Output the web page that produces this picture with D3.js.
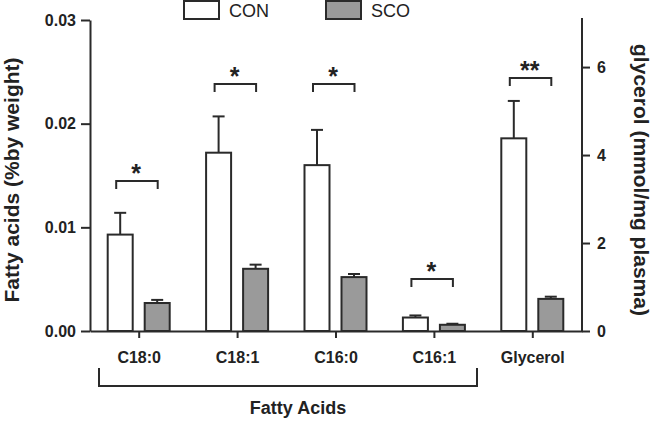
<!DOCTYPE html>
<html>
<head>
<meta charset="utf-8">
<script src="https://cdn.jsdelivr.net/npm/d3@7"></script>
<style>
  body { margin: 0; background: #fff; }
  svg text { font-family: "Liberation Sans", Arial, sans-serif; fill: #222; }
</style>
</head>
<body>
<div id="chart"></div>
<script>
// values
var categories = ['C18:0', 'C18:1', 'C16:0', 'C16:1', 'Glycerol'],
	conValues = [0.0093, 0.0172, 0.0160, 0.0013, 4.38],
	conErrors = [0.0021, 0.0035, 0.0034, 0.0002, 0.85],
	scoValues = [0.0027, 0.0060, 0.0052, 0.0006, 0.73],
	scoErrors = [0.0003, 0.0004, 0.0003, 0.0001, 0.05],
	sigLabels = ['*', '*', '*', '*', '**'],
	sigLevels = [0.0145, 0.0238, 0.0238, 0.0050, 5.75],
	rightAxisCats = ['Glycerol'],
	leftTicks = [0, 0.01, 0.02, 0.03],
	rightTicks = [0, 2, 4, 6],
	seriesNames = ['CON', 'SCO'];

var W = 652, H = 423,
	ink = '#2a2a2a',
	fills = ['#ffffff', '#9a9a9a'],
	x0 = 90, x1 = 582, yBase = 331, yTop = 20;

var svg = d3.select('#chart').append('svg')
	.attr('width', W)
	.attr('height', H);

var x = d3.scaleBand().domain(categories).range([x0, x1]);
var yL = d3.scaleLinear().domain([0, 0.03]).range([yBase, yTop]);
var yR = d3.scaleLinear().domain([0, 7.07]).range([yBase, yTop]);

function yFor(cat) { return rightAxisCats.indexOf(cat) >= 0 ? yR : yL; }

//------------- axes
function styleAxis(g) {
	g.select('.domain').attr('stroke', ink).attr('stroke-width', 2);
	g.selectAll('.tick line').attr('stroke', ink).attr('stroke-width', 2);
	g.selectAll('.tick text')
		.attr('fill', ink)
		.style('font-size', '16px')
		.style('font-weight', 'bold')
		.style('font-family', '"Liberation Sans", Arial, sans-serif');
}

svg.append('g')
	.attr('transform', 'translate(' + x0 + ',0)')
	.call(d3.axisLeft(yL).tickValues(leftTicks).tickFormat(d3.format('.2f'))
		.tickSize(9).tickPadding(5).tickSizeOuter(0))
	.call(styleAxis);

svg.append('g')
	.attr('transform', 'translate(' + x1 + ',0)')
	.call(d3.axisRight(yR).tickValues(rightTicks).tickFormat(d3.format('d'))
		.tickSize(8).tickPadding(7).tickSizeOuter(0))
	.call(styleAxis)
	.select('.domain').attr('d', 'M0,' + (yTop - 2) + 'V' + yBase);

svg.append('g')
	.attr('transform', 'translate(0,' + yBase + ')')
	.call(d3.axisBottom(x).tickSize(7).tickPadding(14).tickSizeOuter(0))
	.call(styleAxis);

//------------- bars
var barW = 25, off = 6;
var groups = svg.selectAll('g.cat')
	.data(categories)
	.enter()
		.append('g')
		.attr('class', 'cat');

function barLeft(cat, s) {
	var c = x(cat) + x.bandwidth() / 2 - 0.5;
	return s === 0 ? c - off - barW : c + off;
}

[ [conValues, conErrors], [scoValues, scoErrors] ].forEach(function (series, s) {
	var vals = series[0], errs = series[1];

	groups.append('line')
		.attr('x1', (d) => barLeft(d, s) + barW / 2)
		.attr('x2', (d) => barLeft(d, s) + barW / 2)
		.attr('y1', (d, i) => yFor(d)(vals[i]))
		.attr('y2', (d, i) => yFor(d)(vals[i] + errs[i]))
		.attr('stroke', ink).attr('stroke-width', 2);

	groups.append('line')
		.attr('x1', (d) => barLeft(d, s) + barW / 2 - 6)
		.attr('x2', (d) => barLeft(d, s) + barW / 2 + 6)
		.attr('y1', (d, i) => yFor(d)(vals[i] + errs[i]))
		.attr('y2', (d, i) => yFor(d)(vals[i] + errs[i]))
		.attr('stroke', ink).attr('stroke-width', 2);

	groups.append('rect')
		.attr('x', (d) => barLeft(d, s))
		.attr('width', barW)
		.attr('y', (d, i) => yFor(d)(vals[i]))
		.attr('height', (d, i) => yBase - yFor(d)(vals[i]))
		.attr('fill', fills[s])
		.attr('stroke', ink).attr('stroke-width', 2);
});

//------------- significance brackets
groups.append('path')
	.attr('d', function (d, i) {
		var a = barLeft(d, 0) + barW / 2 - 4,
			b = barLeft(d, 1) + barW / 2 + 0.5,
			y = Math.round(yFor(d)(sigLevels[i]));
		return 'M' + a + ',' + (y + 8) + 'V' + y + 'H' + b + 'V' + (y + 8);
	})
	.attr('fill', 'none')
	.attr('stroke', ink).attr('stroke-width', 2);

groups.append('text')
	.attr('x', (d) => x(d) + x.bandwidth() / 2 - 3)
	.attr('y', (d, i) => yFor(d)(sigLevels[i]) + 1)
	.attr('text-anchor', 'middle')
	.style('font-size', '25px')
	.style('font-weight', 'bold')
	.text((d, i) => sigLabels[i]);

//------------- fatty acids group bracket
var faL = 99, faR = 477;
svg.append('path')
	.attr('d', 'M' + faL + ',368V386H' + faR + 'V368')
	.attr('fill', 'none')
	.attr('stroke', ink).attr('stroke-width', 2);

svg.append('text')
	.attr('x', (faL + faR) / 2 + 10)
	.attr('y', 414)
	.attr('text-anchor', 'middle')
	.style('font-size', '18px')
	.style('font-weight', 'bold')
	.text('Fatty Acids');

//------------- axis titles
svg.append('text')
	.attr('transform', 'translate(19,180) rotate(-90)')
	.attr('text-anchor', 'middle')
	.style('font-size', '21px')
	.style('font-weight', 'bold')
	.text('Fatty acids (%by weight)');

svg.append('text')
	.attr('transform', 'translate(634,180) rotate(90)')
	.attr('text-anchor', 'middle')
	.style('font-size', '21px')
	.style('font-weight', 'bold')
	.text('glycerol (mmol/mg plasma)');

//------------- legend
var legendX = [184, 326];
var legend = svg.selectAll('g.legend')
	.data(seriesNames)
	.enter()
		.append('g')
		.attr('class', 'legend')
		.attr('transform', (d, i) => 'translate(' + legendX[i] + ',1)');

legend.append('rect')
	.attr('width', 35)
	.attr('height', 18)
	.attr('fill', (d, i) => fills[i])
	.attr('stroke', ink).attr('stroke-width', 2);

legend.append('text')
	.attr('x', 45)
	.attr('y', 16)
	.style('font-size', '18px')
	.text((d) => d);
</script>
</body>
</html>
